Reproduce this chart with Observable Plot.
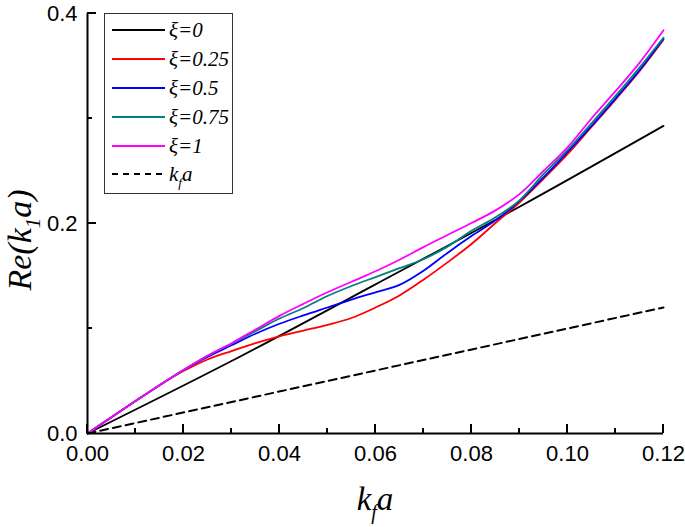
<!DOCTYPE html>
<html><head><meta charset="utf-8">
<script src="https://cdn.jsdelivr.net/npm/d3@7"></script>
<script src="https://cdn.jsdelivr.net/npm/@observablehq/plot@0.6"></script>
<style>html,body{margin:0;padding:0;background:#fff;} #chart{width:685px;height:527px;position:relative;}</style>
</head><body><div id="chart"></div>
<script>
// ---- data ----
const xGrid = [0, 0.005, 0.01, 0.015, 0.02, 0.025, 0.03, 0.035, 0.04, 0.045, 0.05, 0.055, 0.06, 0.065, 0.07, 0.075, 0.08, 0.085, 0.09, 0.095, 0.1, 0.105, 0.11, 0.115, 0.12];
const xi025 = [0, 0.0155, 0.031, 0.046, 0.0595, 0.0705, 0.0785, 0.086, 0.0925, 0.098, 0.1035, 0.110, 0.120, 0.1315, 0.1465, 0.163, 0.1805, 0.2005, 0.220, 0.2425, 0.266, 0.292, 0.318, 0.345, 0.375];
const xi05  = [0, 0.0155, 0.031, 0.046, 0.0605, 0.073, 0.084, 0.095, 0.1045, 0.1125, 0.120, 0.1275, 0.1345, 0.1415, 0.155, 0.172, 0.188, 0.203, 0.2215, 0.244, 0.268, 0.293, 0.319, 0.346, 0.376];
const xi075 = [0, 0.0155, 0.031, 0.046, 0.0605, 0.074, 0.0855, 0.0975, 0.1095, 0.1195, 0.131, 0.1405, 0.149, 0.1575, 0.166, 0.178, 0.193, 0.206, 0.222, 0.247, 0.270, 0.2955, 0.3215, 0.3485, 0.377];
const xi1   = [0, 0.0155, 0.031, 0.046, 0.0605, 0.074, 0.086, 0.099, 0.112, 0.1235, 0.1345, 0.1445, 0.1545, 0.1655, 0.1775, 0.189, 0.2005, 0.2125, 0.228, 0.250, 0.2725, 0.300, 0.326, 0.353, 0.384];
const xi0X = [0, 0.03, 0.06, 0.09, 0.12];
const xi0Y = [0, 0.069, 0.142, 0.216, 0.293];
const kfaX = [0, 0.12];
const kfaY = [0, 0.12];

const seriesNames = ["ξ=0", "ξ=0.25", "ξ=0.5", "ξ=0.75", "ξ=1"];
const seriesColors = ["#000000", "#ff0000", "#0000ff", "#008080", "#ff00ff"];

const xMajor = [0, 0.02, 0.04, 0.06, 0.08, 0.10, 0.12];
const xMinor = [0.01, 0.03, 0.05, 0.07, 0.09, 0.11];
const yMajor = [0, 0.2, 0.4];
const yMinor = [0.1, 0.3];

// ---- tables ----
const rows = [];
xi0X.forEach((x, i) => rows.push({x, y: xi0Y[i], s: seriesNames[0]}));
[xi025, xi05, xi075, xi1].forEach((arr, k) =>
  arr.forEach((y, i) => rows.push({x: xGrid[i], y, s: seriesNames[k + 1]})));
const kfaRows = kfaX.map((x, i) => ({x, y: kfaY[i]}));

const W = 685, H = 527;
const chart = Plot.plot({
  width: W, height: H,
  marginLeft: 87, marginRight: 22, marginTop: 13, marginBottom: 94,
  style: {fontFamily: "'Liberation Sans', Arial, sans-serif", fontSize: "22px", color: "#000", background: "#fff", overflow: "visible"},
  x: {domain: [0, 0.12], axis: null},
  y: {domain: [0, 0.4], axis: null},
  color: {domain: seriesNames, range: seriesColors},
  marks: [
    Plot.line(kfaRows, {x: "x", y: "y", stroke: "#000", strokeWidth: 2, strokeDasharray: "8,5"}),
    Plot.line(rows, {x: "x", y: "y", z: "s", stroke: "s", strokeWidth: 1.8, curve: "monotone-x"}),
    Plot.ruleX([0], {stroke: "#000", strokeWidth: 2}),
    Plot.ruleY([0], {stroke: "#000", strokeWidth: 2}),
    Plot.axisX(xMajor, {tickSize: 0, tickPadding: 12, tickFormat: d3.format(".2f"), fontSize: 22, label: null}),
    Plot.axisY(yMajor, {tickSize: 0, tickPadding: 10, tickFormat: d3.format(".1f"), fontSize: 22, label: null})
  ]
});
document.getElementById("chart").appendChild(chart);

const svg = d3.select(chart);
const sx = chart.scale("x"), sy = chart.scale("y");
const x0 = sx.apply(0), y0 = sy.apply(0);

// ---- inward tick marks, positioned through Plot's scales ----
const tg = svg.append("g").attr("fill", "none").attr("stroke", "#000").attr("stroke-linecap", "butt");
const tickPath = (d) => tg.append("path").attr("d", d).attr("stroke-width", 2);
xMajor.forEach(v => tickPath(`M${Math.round(sx.apply(v))},${y0}V${y0 - 9}`));
xMinor.forEach(v => tickPath(`M${Math.round(sx.apply(v))},${y0}V${y0 - 5}`));
yMajor.forEach(v => tickPath(`M${x0},${Math.round(sy.apply(v))}H${x0 + 9}`));
yMinor.forEach(v => tickPath(`M${x0},${Math.round(sy.apply(v))}H${x0 + 5}`));

// ---- titles & legend ----
const serif = "'Liberation Serif', 'Times New Roman', serif";
const xt = svg.append("text").attr("x", 375).attr("y", 510).attr("text-anchor", "middle")
  .attr("font-family", serif).attr("font-style", "italic").attr("font-size", 33).attr("fill", "#000");
xt.append("tspan").text("k");
xt.append("tspan").attr("font-size", 20).attr("dy", 9).text("f");
xt.append("tspan").attr("dy", -9).text("a");

const yt = svg.append("text").attr("transform", "translate(31,240) rotate(-90)").attr("text-anchor", "middle")
  .attr("font-family", serif).attr("font-style", "italic").attr("font-size", 34).attr("fill", "#000");
yt.append("tspan").text("Re(k");
yt.append("tspan").attr("font-size", 21).attr("dy", 9).text("1");
yt.append("tspan").attr("dy", -9).text("a)");

const lg = svg.append("g");
lg.append("rect").attr("x", 104.5).attr("y", 13.5).attr("width", 128).attr("height", 180)
  .attr("fill", "#fff").attr("stroke", "#333").attr("stroke-width", 1);
const legendLabels = seriesNames.concat(["kfa"]);
const rowsY = [30, 59, 88, 117, 146, 174];
legendLabels.forEach((name, i) => {
  const yy = rowsY[i];
  lg.append("line").attr("x1", 112).attr("x2", 165).attr("y1", yy).attr("y2", yy)
    .attr("stroke", i < 5 ? seriesColors[i] : "#000").attr("stroke-width", i < 5 ? 1.8 : 2)
    .attr("stroke-dasharray", i < 5 ? null : "6,5");
  const t = lg.append("text").attr("x", 169).attr("y", yy + 7).attr("text-anchor", "start")
    .attr("font-family", serif).attr("font-style", "italic").attr("font-size", 21).attr("fill", "#000");
  if (i < 5) t.text(name);
  else {
    t.append("tspan").text("k");
    t.append("tspan").attr("font-size", 13).attr("dy", 6).text("f");
    t.append("tspan").attr("dy", -6).text("a");
  }
});
</script>
</body></html>
